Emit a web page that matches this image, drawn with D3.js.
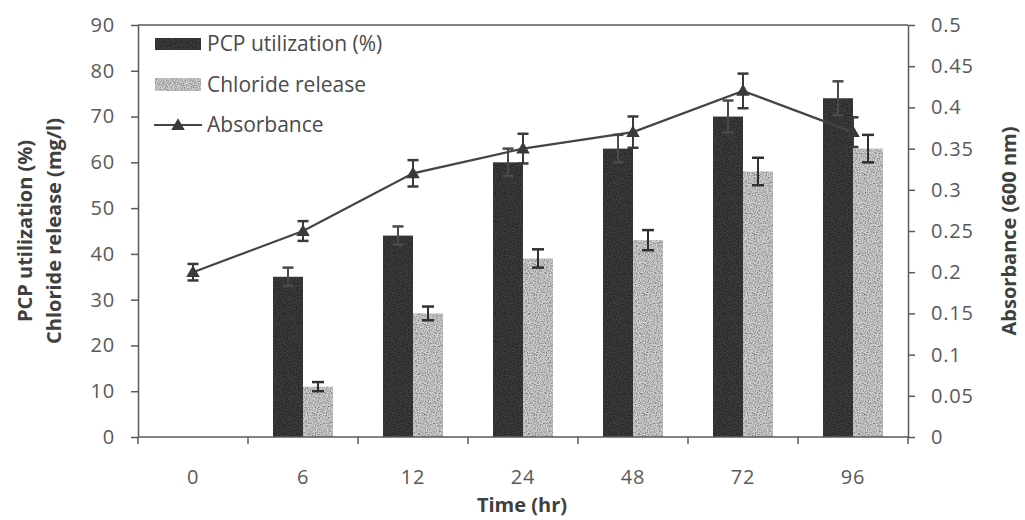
<!DOCTYPE html>
<html>
<head>
<meta charset="utf-8">
<script src="https://cdn.jsdelivr.net/npm/d3@7"></script>
<style>
  html, body { margin: 0; padding: 0; background: #fff; }
  svg { display: block; }
  .tick text { font-family: "Open Sans", "Noto Sans", sans-serif; }
</style>
</head>
<body>
<svg id="chart" width="1025" height="520"></svg>
<script>
// Sampling times (hr)
const times = ["0", "6", "12", "24", "48", "72", "96"];
// PCP utilization (%) and its error
const pcp = [0, 35, 44, 60, 63, 70, 74];
const pcpErr = [0, 2, 2, 3, 3, 3.5, 3.7];
// Chloride release (mg/l) and its error
const chloride = [0, 11, 27, 39, 43, 58, 63];
const chlorideErr = [0, 1, 1.5, 2, 2.2, 3, 3];
// Absorbance at 600 nm and its error
const absorbance = [0.2, 0.25, 0.32, 0.35, 0.37, 0.42, 0.37];
const absorbanceErr = [0.01, 0.012, 0.016, 0.018, 0.019, 0.021, 0.018];
// Axis ticks
const leftTicks = [0, 10, 20, 30, 40, 50, 60, 70, 80, 90];
const rightTicks = [0, 0.05, 0.1, 0.15, 0.2, 0.25, 0.3, 0.35, 0.4, 0.45, 0.5];

const svg = d3.select("#chart");
const m = { left: 138, right: 908, top: 25, bottom: 437 };
const axisColor = "#5a5a5a";
const textColor = "#595959";
const markColor = "#3a3a3a";
const fontFam = "'Open Sans', 'Noto Sans', sans-serif";
const tickFont = 20;

// Grainy fills for the bars
const defs = svg.append("defs");
const noise = defs.append("filter").attr("id", "grain")
  .attr("x", 0).attr("y", 0).attr("width", 1).attr("height", 1);
noise.append("feTurbulence").attr("type", "fractalNoise")
  .attr("baseFrequency", 0.9).attr("numOctaves", 2).attr("seed", 3).attr("result", "n");
noise.append("feColorMatrix").attr("type", "matrix")
  .attr("values", "0 0 0 0 0  0 0 0 0 0  0 0 0 0 0  0 0 0 -2.2 1.35");

function grainPattern(id, base, speck, op) {
  const p = defs.append("pattern").attr("id", id).attr("patternUnits", "userSpaceOnUse")
    .attr("width", 60).attr("height", 60);
  p.append("rect").attr("width", 60).attr("height", 60).attr("fill", base);
  p.append("rect").attr("width", 60).attr("height", 60).attr("fill", speck)
    .attr("filter", "url(#grain)").attr("opacity", op);
}
grainPattern("darkFill", "#3d3d3d", "#1e1e1e", 0.55);
grainPattern("lightFill", "#d2d2d2", "#8e8e8e", 0.45);

// Scales
const x = d3.scaleBand().domain(times).range([m.left, m.right]).padding(0);
const xSub = d3.scaleBand().domain(["pcp", "cl"]).range([-30, 30]).padding(0);
const yL = d3.scaleLinear().domain([0, 90]).range([m.bottom, m.top]);
const yR = d3.scaleLinear().domain([0, 0.5]).range([m.bottom, m.top]);
const cx = t => x(t) + x.bandwidth() / 2;

// Plot frame top line
svg.append("line").attr("x1", m.left).attr("x2", m.right)
  .attr("y1", m.top).attr("y2", m.top)
  .attr("stroke", axisColor).attr("stroke-width", 1.5);

// Bars
const groups = svg.append("g").selectAll("g").data(times).join("g")
  .attr("transform", t => `translate(${cx(t)},0)`);
groups.append("rect")
  .attr("x", xSub("pcp")).attr("width", xSub.bandwidth())
  .attr("y", (t, i) => yL(pcp[i])).attr("height", (t, i) => yL(0) - yL(pcp[i]))
  .attr("fill", "url(#darkFill)");
groups.append("rect")
  .attr("x", xSub("cl")).attr("width", xSub.bandwidth())
  .attr("y", (t, i) => yL(chloride[i])).attr("height", (t, i) => yL(0) - yL(chloride[i]))
  .attr("fill", "url(#lightFill)");

// Error bars
function errorBar(g, xc, yTop, yBot, color, cap) {
  g.append("line").attr("x1", xc).attr("x2", xc).attr("y1", yTop).attr("y2", yBot)
    .attr("stroke", color).attr("stroke-width", 2);
  [yTop, yBot].forEach(yy => g.append("line")
    .attr("x1", xc - cap / 2).attr("x2", xc + cap / 2).attr("y1", yy).attr("y2", yy)
    .attr("stroke", color).attr("stroke-width", 2.5));
}
const errG = svg.append("g");
times.forEach((t, i) => {
  if (pcp[i] > 0) {
    const xc = cx(t) + xSub("pcp") + xSub.bandwidth() / 2;
    errorBar(errG, xc, yL(pcp[i] + pcpErr[i]), yL(pcp[i] - pcpErr[i]), "#4a4a4a", 11);
  }
  if (chloride[i] > 0) {
    const xc = cx(t) + xSub("cl") + xSub.bandwidth() / 2;
    errorBar(errG, xc, yL(chloride[i] + chlorideErr[i]), yL(chloride[i] - chlorideErr[i]), "#303030", 12);
  }
});

// Absorbance line
const line = d3.line().x((d, i) => cx(times[i])).y(d => yR(d));
svg.append("path").datum(absorbance).attr("d", line)
  .attr("fill", "none").attr("stroke", "#444").attr("stroke-width", 2.2);
times.forEach((t, i) => {
  errorBar(errG, cx(t), yR(absorbance[i] + absorbanceErr[i]), yR(absorbance[i] - absorbanceErr[i]), "#3a3a3a", 11);
});
const tri = d3.symbol().type(d3.symbolTriangle).size(80);
svg.append("g").selectAll("path").data(absorbance).join("path")
  .attr("d", tri)
  .attr("transform", (d, i) => `translate(${cx(times[i])},${yR(d) + 1})`)
  .attr("fill", markColor);

// Axes
function styleAxis(g) {
  g.selectAll(".domain").attr("stroke", axisColor).attr("stroke-width", 1.5);
  g.selectAll(".tick line").attr("stroke", axisColor).attr("stroke-width", 1.5);
  g.selectAll(".tick text").attr("fill", textColor).attr("font-size", tickFont)
    .attr("letter-spacing", 0.8);
}
svg.append("g").attr("transform", `translate(${m.left},0)`)
  .call(d3.axisLeft(yL).tickValues(leftTicks).tickSize(7).tickSizeOuter(0).tickPadding(16))
  .call(styleAxis);
svg.append("g").attr("transform", `translate(${m.right},0)`)
  .call(d3.axisRight(yR).tickValues(rightTicks).tickSize(7).tickSizeOuter(0).tickPadding(16)
    .tickFormat(d => String(+d.toFixed(2))))
  .call(styleAxis);

// Category axis: ticks at band boundaries, labels at band centres
const xAxisG = svg.append("g").attr("transform", `translate(0,${m.bottom})`);
xAxisG.append("line").attr("x1", m.left).attr("x2", m.right)
  .attr("stroke", axisColor).attr("stroke-width", 1.5);
const bounds = times.map(t => x(t)).concat([m.right]);
xAxisG.selectAll("line.b").data(bounds).join("line").attr("class", "b")
  .attr("x1", d => d).attr("x2", d => d).attr("y1", 0).attr("y2", 7)
  .attr("stroke", axisColor).attr("stroke-width", 1.5);
xAxisG.selectAll("text").data(times).join("text")
  .attr("x", t => cx(t)).attr("y", 47).attr("text-anchor", "middle")
  .attr("font-family", fontFam).attr("font-size", tickFont).attr("letter-spacing", 0.8)
  .attr("fill", textColor)
  .text(t => t);

// Axis titles
const titleStyle = s => s.attr("font-family", fontFam).attr("font-weight", "bold")
  .attr("font-size", 20).attr("fill", "#404040").attr("text-anchor", "middle");
svg.append("text").attr("transform", `translate(32,${(m.top + m.bottom) / 2}) rotate(-90)`)
  .call(titleStyle).text("PCP utilization (%)");
svg.append("text").attr("transform", `translate(61,${(m.top + m.bottom) / 2}) rotate(-90)`)
  .call(titleStyle).text("Chloride release (mg/l)");
svg.append("text").attr("transform", `translate(1016,${(m.top + m.bottom) / 2}) rotate(-90)`)
  .call(titleStyle).text("Absorbance (600 nm)");
svg.append("text").attr("x", 522).attr("y", 512).call(titleStyle).text("Time (hr)");

// Legend
const lg = svg.append("g");
const legendText = (yy, s) => lg.append("text").attr("x", 207).attr("y", yy)
  .attr("font-family", fontFam).attr("font-size", 21).attr("fill", "#4a4a4a").text(s);
lg.append("rect").attr("x", 155).attr("y", 38).attr("width", 46).attr("height", 12).attr("fill", "url(#darkFill)");
legendText(51, "PCP utilization (%)");
lg.append("rect").attr("x", 155).attr("y", 78).attr("width", 46).attr("height", 13).attr("fill", "url(#lightFill)");
legendText(92, "Chloride release");
lg.append("line").attr("x1", 154).attr("x2", 202).attr("y1", 125).attr("y2", 125)
  .attr("stroke", "#444").attr("stroke-width", 2);
lg.append("path").attr("d", tri).attr("transform", "translate(178,126)").attr("fill", markColor);
legendText(132, "Absorbance");
</script>
</body>
</html>
